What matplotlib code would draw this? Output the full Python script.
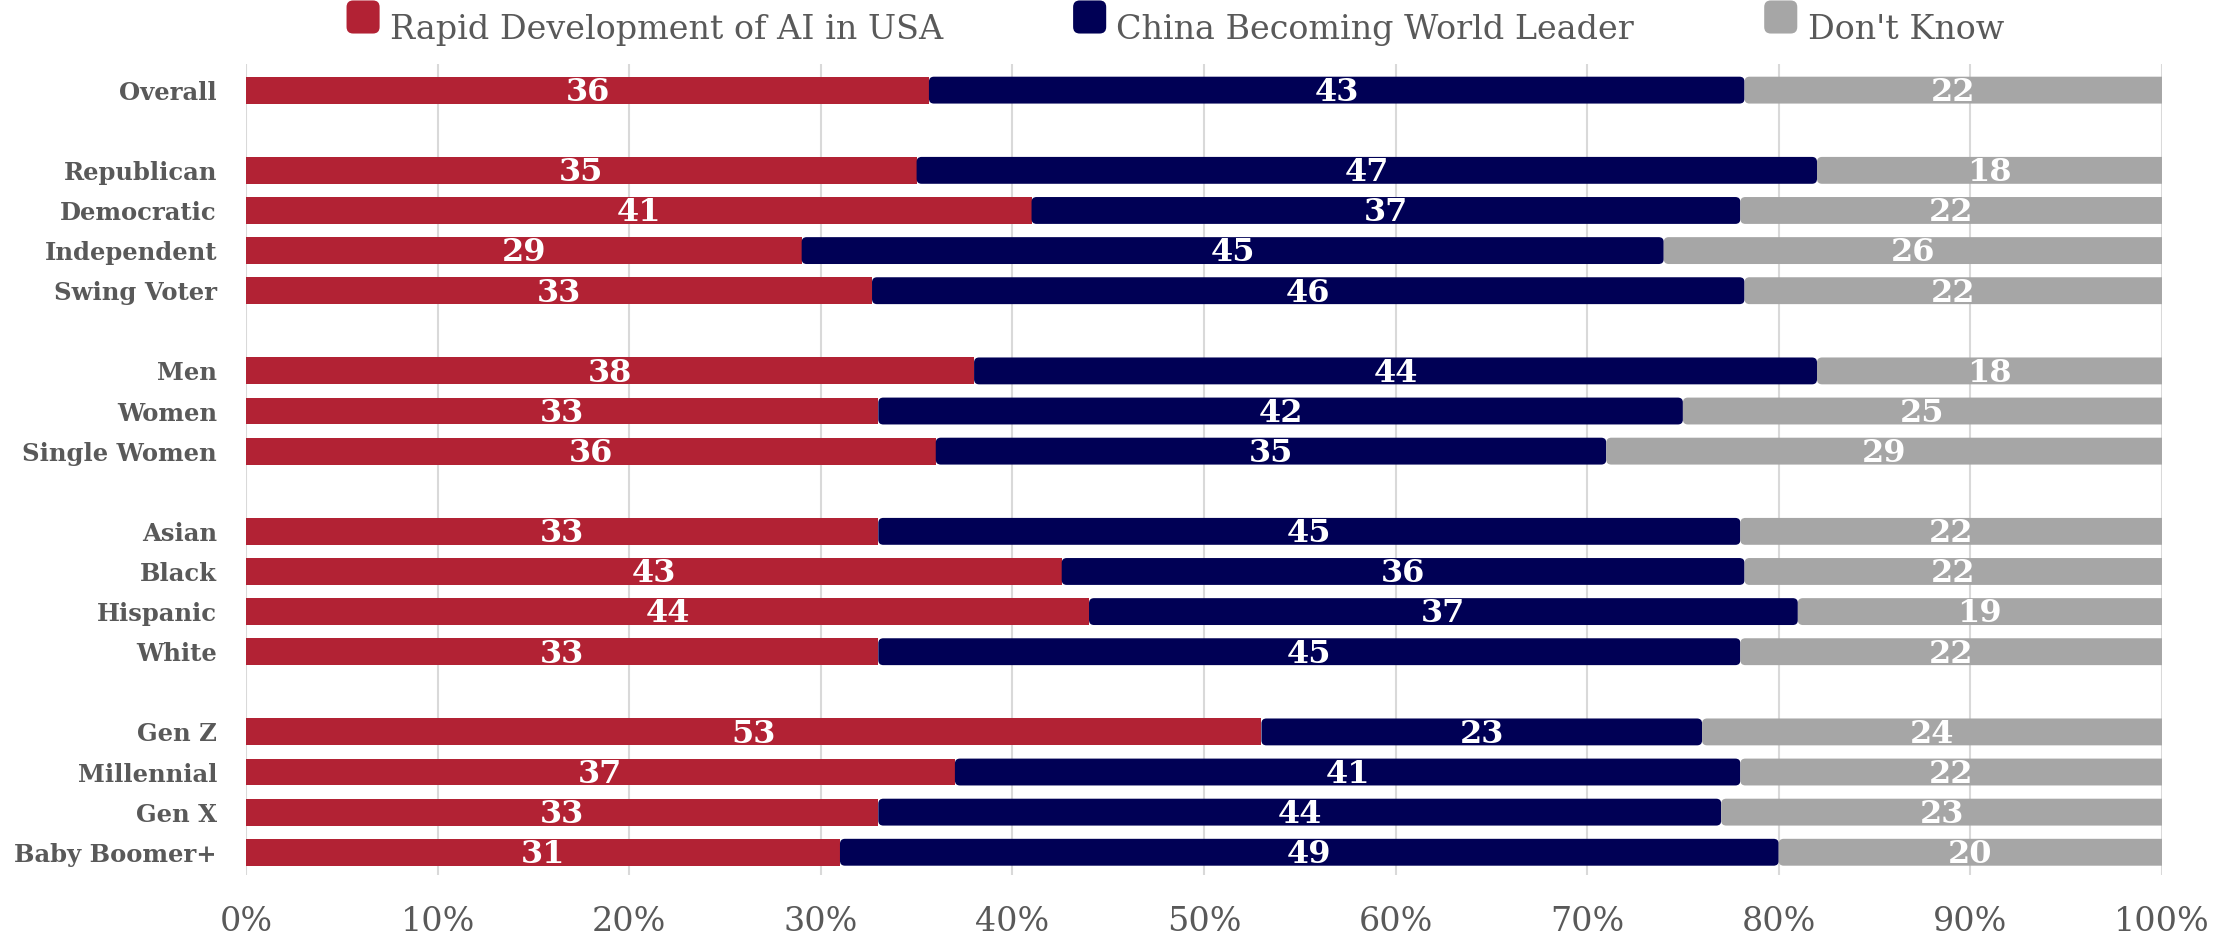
"""
AI race survey - stacked share bars
Run: python plot.py
"""
import numpy as np
import matplotlib
matplotlib.use("Agg")
import matplotlib.pyplot as plt
import matplotlib.ticker as mtick
from matplotlib.patches import FancyBboxPatch
from matplotlib.legend_handler import HandlerBase

# ── Data ─────────────────────────────────────────────────────────────────────
groups = [
    ["Overall"],
    ["Republican", "Democratic", "Independent", "Swing Voter"],
    ["Men", "Women", "Single Women"],
    ["Asian", "Black", "Hispanic", "White"],
    ["Gen Z", "Millennial", "Gen X", "Baby Boomer+"],
]
series_names = ["Rapid Development of AI in USA", "China Becoming World Leader", "Don't Know"]
usa_ai  = [36, 35, 41, 29, 33, 38, 33, 36, 33, 43, 44, 33, 53, 37, 33, 31]
china   = [43, 47, 37, 45, 46, 44, 42, 35, 45, 36, 37, 45, 23, 41, 44, 49]
unsure  = [22, 18, 22, 26, 22, 18, 25, 29, 22, 22, 19, 22, 24, 22, 23, 20]
xticks  = [0, 10, 20, 30, 40, 50, 60, 70, 80, 90, 100]

colors = ["#B22234", "#000055", "#A6A6A6"]
GREY_TXT = "#595959"
FONT = "DejaVu Serif"
BAR_H = 0.67

# ── Row positions (one empty row between groups) ────────────────────────────
labels, ypos = [], []
row = 0
for g in groups:
    for name in g:
        labels.append(name); ypos.append(row); row += 1
    row += 1
ypos = np.array(ypos)

vals = np.array([usa_ai, china, unsure], dtype=float)
shares = vals / vals.sum(axis=0) * 100


class RoundSquare(HandlerBase):
    def create_artists(self, legend, orig, xd, yd, w, h, fontsize, trans):
        s = min(w, h)
        p = FancyBboxPatch((xd, yd + (h - s) / 2), s, s,
                           boxstyle=f"round,pad=0,rounding_size={s * 0.2}",
                           facecolor=orig.get_facecolor(), edgecolor="none", transform=trans)
        return [p]


# ── Plot ─────────────────────────────────────────────────────────────────────
fig = plt.figure(figsize=(22.31, 9.42), dpi=100)
ax = fig.add_axes([0.1103, 0.071, 0.969 - 0.1103, 0.861])
ax.set_xlim(0, 100)
ax.set_ylim(ypos[-1] + 0.57, -0.65)

# pixel size of one data unit, to keep the corner radius round
px_x = ax.bbox.width / 100
px_y = ax.bbox.height / (ypos[-1] + 0.57 + 0.65)
radius = 5 / px_x

left = np.zeros(len(labels))
for i in range(3):
    if i == 0:
        ax.barh(ypos, shares[i], left=left, height=BAR_H, color=colors[i], zorder=3)
    else:
        for y, l, w in zip(ypos, left, shares[i]):
            # last segment runs past 100 so only its left end shows rounded
            ww = w + (2 if i == 2 else 0)
            ax.add_patch(FancyBboxPatch((l, y - BAR_H / 2), ww, BAR_H,
                                        boxstyle=f"round,pad=0,rounding_size={radius}",
                                        mutation_aspect=px_x / px_y,
                                        facecolor=colors[i], edgecolor="none", zorder=3 + i))
    for y, l, w, v in zip(ypos, left, shares[i], vals[i]):
        ax.text(l + w / 2, y + 0.06, f"{v:.0f}", ha="center", va="center", color="white",
                fontsize=23, fontweight="bold", family=FONT, zorder=10)
    left += shares[i]

ax.set_xticks(xticks)
ax.xaxis.set_major_formatter(mtick.PercentFormatter(decimals=0))
ax.set_yticks(ypos)
ax.set_yticklabels(labels)
ax.tick_params(axis="both", length=0)
ax.tick_params(axis="y", pad=21)
ax.tick_params(axis="x", pad=22)
for t in ax.get_yticklabels():
    t.set_family(FONT); t.set_fontweight("bold"); t.set_fontsize(17.5); t.set_color(GREY_TXT)
for t in ax.get_xticklabels():
    t.set_family(FONT); t.set_fontsize(24); t.set_color(GREY_TXT)

ax.grid(axis="x", color="#D9D9D9", linewidth=1.5, zorder=0)
for s in ax.spines.values():
    s.set_visible(False)

handles = [plt.Rectangle((0, 0), 1, 1, facecolor=c, edgecolor="none") for c in colors]
leg = ax.legend(handles, series_names, loc="center", bbox_to_anchor=(0.485, 1.044),
                ncol=3, frameon=False, handlelength=1.15, handleheight=1.15,
                handletextpad=0.15, columnspacing=3.9,
                handler_map={plt.Rectangle: RoundSquare()},
                prop={"family": FONT, "size": 24})
for t in leg.get_texts():
    t.set_color(GREY_TXT)

plt.savefig("out.png", dpi=100)
plt.close()
